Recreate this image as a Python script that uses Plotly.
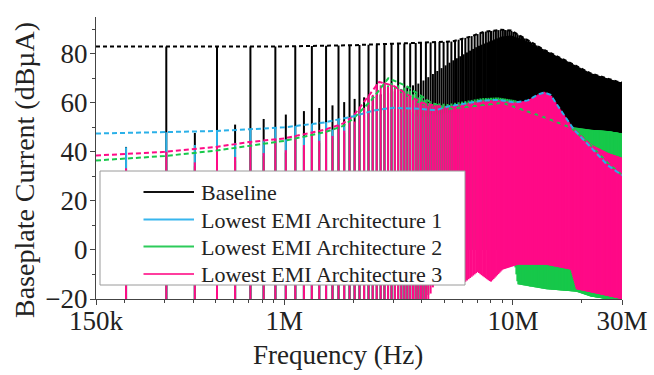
import numpy as np
import plotly.graph_objects as go

# ---------------- data ----------------
# harmonic comb: fundamental frequency read from spike spacing (Hz)
F0_HZ = 101.5e3
F_MIN_HZ, F_MAX_HZ = 150e3, 30e6

# Baseline spectrum: peak of odd / even harmonics, and lower edge (MHz, dBuA)
BASE_ODD_MHZ = [0.15, 1.0, 2.0, 3.0, 4.0, 5.4, 6.5, 7.5, 8.9, 9.8, 11.2, 13.7, 17.3, 21.8, 28.5, 30]
BASE_ODD_DB = [83, 83, 83.5, 84, 84.5, 85, 87, 89, 89.8, 89.5, 86.4, 81.6, 76.9, 72.1, 68.7, 68.3]
BASE_EVEN_MHZ = [0.2, 0.4, 0.6, 0.8, 1.0, 1.2, 1.4, 1.6, 1.8, 2.0, 2.5, 3.0, 3.9, 5.4, 7.0, 8.9, 9.8, 11.2, 13.7, 17.3, 21.8, 28.5, 30]
BASE_EVEN_DB = [41.9, 47.6, 51, 53.3, 55.1, 56.5, 57.8, 58.8, 60.1, 61.5, 63, 64.5, 68, 77, 83, 87, 87.5, 85.5, 81, 76.5, 71.8, 68.5, 68]
BASE_FLOOR_MHZ = [0.15, 4.0, 5.0, 30]
BASE_FLOOR_DB = [-22, -22, 5, 5]

# Architecture 1 (blue)
A1_SPEC_MHZ = [0.15, 0.3, 0.5, 0.7, 1.0, 1.5, 2.0, 2.5, 3.0, 4.0, 5.2, 7.3, 10.2, 13.0, 15.6, 18.5, 22, 26, 30]
A1_SPEC_DB = [47.5, 48, 48.5, 49.2, 50, 52, 54.5, 57, 58, 55, 56, 58, 58, 58, 55, 46, 38, 32, 29]
A1_FLOOR_MHZ = [0.15, 4.0, 5.0, 30]
A1_FLOOR_DB = [-22, -22, 5, 5]
A1_DASH_MHZ = [0.15, 0.3, 0.5, 0.7, 1.0, 1.5, 2.0, 2.5, 3.0, 4.0, 4.6, 5.2, 7.3, 8.6, 10.2, 11.6, 12.8, 13.7, 14.6, 15.6, 18.5, 22, 26, 30]
A1_DASH_DB = [47.5, 48, 48.5, 49.2, 50, 52, 54.5, 57, 58, 57.5, 57, 58.5, 60.9, 61.2, 60.1, 61, 63.3, 64.2, 63.3, 59.2, 49, 41.7, 34.5, 30.5]

# Architecture 2 (green)
A2_SPEC_MHZ = [0.15, 0.3, 0.5, 0.7, 1.0, 1.5, 1.8, 2.0, 2.4, 2.85, 3.4, 4.4, 5.2, 7.3, 8.6, 10.2, 11.0, 14.0, 16.0, 18.5, 22, 26, 30]
A2_SPEC_DB = [36.5, 38.3, 40.5, 42.5, 44.5, 48, 50.5, 53.5, 60, 68.5, 66, 60, 59.5, 61.9, 62.2, 61.1, 60, 57, 53, 50, 49, 48.5, 47.5]
A2_FLOOR_MHZ = [0.15, 4.2, 4.6, 10.0, 10.5, 14, 19, 22, 30]
A2_FLOOR_DB = [-22, -22, 0, 0, -14, -16, -17, -19, -21]
A2_DASH_MHZ = [0.15, 0.3, 0.5, 0.7, 1.0, 1.5, 1.8, 2.0, 2.4, 2.85, 3.4, 4.4, 5.2, 6.5, 8.0, 9.0, 11, 14, 18, 22, 26, 30]
A2_DASH_DB = [36.5, 38.3, 40.5, 42.5, 44.5, 48, 50.5, 53.5, 61, 70, 67, 60, 57.5, 58.5, 59.5, 60, 57.2, 53.8, 49.8, 42.5, 35.5, 30.5]

# Architecture 3 (pink)
A3_SPEC_MHZ = [0.15, 0.3, 0.5, 0.7, 1.0, 1.5, 1.8, 2.0, 2.3, 2.6, 3.0, 3.5, 4.0, 5.2, 7.3, 8.6, 10.2, 11.6, 12.8, 13.7, 14.6, 15.6, 18.5, 22, 26, 30]
A3_SPEC_DB = [38.5, 40, 42, 44, 45.5, 49, 51.5, 54.5, 62, 69, 67, 63, 60, 58.5, 60.9, 61.2, 60.1, 61, 63.3, 64.5, 63.3, 59.2, 49, 42.9, 39.5, 37.5]
A3_FLOOR_MHZ = [0.15, 4.2, 4.6, 6, 7, 8, 9, 10.5, 14, 18, 19, 24, 30]
A3_FLOOR_DB = [-22, -22, -12, -14, -9, -13, -8, -6, -6, -8, -16, -18, -20]
A3_DASH_MHZ = [0.15, 0.3, 0.5, 0.7, 1.0, 1.5, 1.8, 2.0, 2.3, 2.6, 3.0, 3.5, 4.0, 5.0, 6.0, 8.0, 9.0, 11, 14, 18, 22, 26, 30]
A3_DASH_DB = [38.5, 40, 42, 44, 45.5, 49, 51.5, 54.5, 62, 68.5, 67, 63, 60, 58, 58.5, 60, 60, 57.5, 54, 50, 42.5, 35, 30.5]

# even harmonics of the architectures sit a little below the odd ones
EVEN_DROP_MHZ = [0.15, 1.0, 2.0, 3.0, 30]
EVEN_DROP_DB = [6, 5, 3, 1, 0]

SERIES_NAMES = ["Baseline", "Lowest EMI Architecture 1", "Lowest EMI Architecture 2", "Lowest EMI Architecture 3"]
TICK_VALS = [150e3, 1e6, 1e7, 3e7]
TICK_TEXT = ["150k", "1M", "10M", "30M"]

# ---------------- styling ----------------
COLORS = ["#000000", "#2AB0E8", "#17C84A", "#FF0A87"]
LEGEND_COLORS = ["#111111", "#38B6EE", "#2DCB5A", "#FF3D9E"]
FONT = "Liberation Serif, Times New Roman, Tinos, DejaVu Serif, serif"
TXT = "#222222"


def interp_db(f_hz, knots_mhz, vals):
    return np.interp(np.log10(f_hz), np.log10(np.array(knots_mhz) * 1e6), vals)


def comb(odd_f, odd_db, even_f, even_db, floor_f, floor_db):
    n = np.arange(2, int(F_MAX_HZ // F0_HZ) + 1)
    f = n * F0_HZ
    peak = np.where(n % 2 == 1, interp_db(f, odd_f, odd_db), interp_db(f, even_f, even_db))
    floor = interp_db(f, floor_f, floor_db)
    xs, ys = [], []
    for fi, lo, hi in zip(f, floor, peak):
        xs += [float(fi), float(fi), None]
        ys += [float(lo), float(hi), None]
    return xs, ys


def arch_even(spec_f, spec_db):
    fk = sorted(set(list(spec_f) + list(EVEN_DROP_MHZ)))
    fk_hz = np.array(fk) * 1e6
    v = interp_db(fk_hz, spec_f, spec_db) - interp_db(fk_hz, EVEN_DROP_MHZ, EVEN_DROP_DB)
    return fk, list(v)


fig = go.Figure()

combs = [
    comb(BASE_ODD_MHZ, BASE_ODD_DB, BASE_EVEN_MHZ, BASE_EVEN_DB, BASE_FLOOR_MHZ, BASE_FLOOR_DB),
    comb(A1_SPEC_MHZ, A1_SPEC_DB, *arch_even(A1_SPEC_MHZ, A1_SPEC_DB), A1_FLOOR_MHZ, A1_FLOOR_DB),
    comb(A2_SPEC_MHZ, A2_SPEC_DB, *arch_even(A2_SPEC_MHZ, A2_SPEC_DB), A2_FLOOR_MHZ, A2_FLOOR_DB),
    comb(A3_SPEC_MHZ, A3_SPEC_DB, *arch_even(A3_SPEC_MHZ, A3_SPEC_DB), A3_FLOOR_MHZ, A3_FLOOR_DB),
]
for (xs, ys), name, col in zip(combs, SERIES_NAMES, COLORS):
    fig.add_trace(go.Scatter(x=xs, y=ys, mode="lines", name=name,
                             line=dict(color=col, width=2, simplify=False), connectgaps=False,
                             showlegend=False, hoverinfo="skip"))

# dashed envelopes
dashes = [
    (BASE_ODD_MHZ, BASE_ODD_DB, COLORS[0], "4px,3px"),
    (A2_DASH_MHZ, A2_DASH_DB, COLORS[2], "5px,3px"),
    (A3_DASH_MHZ, A3_DASH_DB, COLORS[3], "5px,3px"),
    (A1_DASH_MHZ, A1_DASH_DB, COLORS[1], "5px,3px"),
]
for fm, db, col, dsh in dashes:
    fig.add_trace(go.Scatter(x=np.array(fm) * 1e6, y=db, mode="lines",
                             line=dict(color=col, width=2, dash=dsh),
                             showlegend=False, hoverinfo="skip"))

# ---------------- layout ----------------
L, R, T, B = 96, 32, 17, 76
W, H = 654, 375
PW, PH = W - L - R, H - T - B


def px(x):
    return (x - L) / PW


def py(y):
    return (H - B - y) / PH


shapes = [dict(type="rect", xref="paper", yref="paper", layer="above",
               x0=px(100), x1=px(465), y0=py(285), y1=py(171),
               fillcolor="white", line=dict(color="#9a9a9a", width=1))]
annotations = []
row_y = [192, 219.5, 246.5, 274]
for name, col, yy in zip(SERIES_NAMES, LEGEND_COLORS, row_y):
    shapes.append(dict(type="line", xref="paper", yref="paper", layer="above",
                       x0=px(143.5), x1=px(194), y0=py(yy), y1=py(yy),
                       line=dict(color=col, width=2)))
    annotations.append(dict(xref="paper", yref="paper", x=px(199), y=py(yy + 0.5),
                            xanchor="left", yanchor="middle", showarrow=False,
                            text=name, font=dict(family=FONT, size=22, color=TXT)))

annotations.append(dict(xref="paper", yref="paper", x=px(338), y=py(355),
                        xanchor="center", yanchor="middle", showarrow=False,
                        text="Frequency (Hz)", font=dict(family=FONT, size=27, color=TXT)))
annotations.append(dict(xref="paper", yref="paper", x=px(24), y=py(170),
                        xanchor="center", yanchor="middle", showarrow=False, textangle=-90,
                        text="Baseplate Current (dBµA)", font=dict(family=FONT, size=28, color=TXT)))

minor_x = [m * 10 ** e for e in (5, 6) for m in range(2, 10) if m * 10 ** e > 150e3] + [2e7]

fig.update_layout(
    width=W, height=H, autosize=False,
    margin=dict(l=L, r=R, t=T, b=B, autoexpand=False),
    paper_bgcolor="white", plot_bgcolor="white",
    font=dict(family=FONT, color=TXT),
    showlegend=False,
    shapes=shapes, annotations=annotations,
    xaxis=dict(type="log", range=[np.log10(F_MIN_HZ), np.log10(F_MAX_HZ)],
               automargin=False,
               tickvals=TICK_VALS, ticktext=TICK_TEXT,
               ticks="outside", ticklen=5, tickwidth=1.3, tickcolor="#444",
               ticklabelstandoff=-8,
               showline=True, linecolor="#444", linewidth=1.3,
               showgrid=False, zeroline=False,
               tickfont=dict(family=FONT, size=27, color=TXT),
               minor=dict(tickvals=minor_x, ticks="outside", ticklen=3,
                          tickcolor="#444", tickwidth=1.2, showgrid=False)),
    yaxis=dict(range=[-20, 95], tickvals=[-20, 0, 20, 40, 60, 80],
               automargin=False,
               ticks="outside", ticklen=5, tickwidth=1.3, tickcolor="#444",
               ticklabelstandoff=-3,
               showline=True, linecolor="#444", linewidth=1.3,
               showgrid=False, zeroline=False,
               tickfont=dict(family=FONT, size=27, color=TXT),
               minor=dict(tickvals=[-10, 10, 30, 50, 70, 90], ticks="outside", ticklen=3,
                          tickcolor="#444", tickwidth=1.2, showgrid=False)),
)

fig.write_html("out.html", config={"displayModeBar": False, "responsive": False},
               post_script="document.body.style.margin='0';document.body.style.overflow='hidden';")
